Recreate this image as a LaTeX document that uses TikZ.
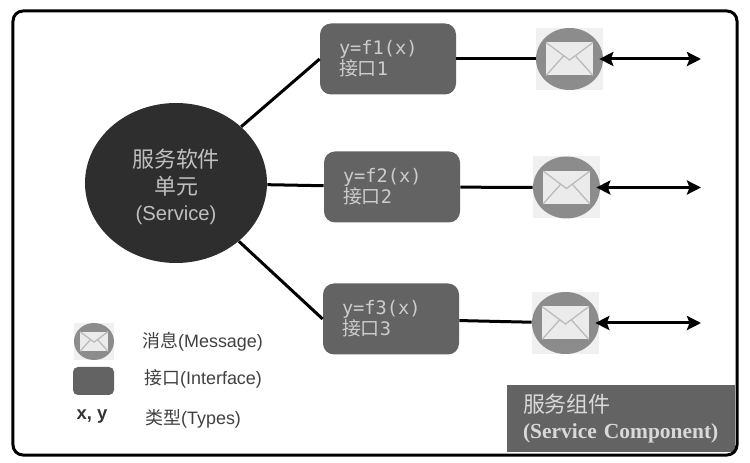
\documentclass[tikz,border=0pt]{standalone}
\usepackage{fontspec}
\setmainfont{Liberation Sans}
\setmonofont{DejaVu Sans Mono}
\newfontfamily\cjk{Noto Sans CJK SC}
\newfontfamily\titlefont{Liberation Serif}
\usetikzlibrary{arrows.meta,shapes.geometric}
\definecolor{darkball}{gray}{0.18}
\definecolor{ifgray}{gray}{0.39}
\definecolor{msggray}{gray}{0.55}
\tikzstyle{ifbox}=[
    fill=ifgray, rounded corners=2.2mm, inner sep=0pt,
    minimum width=2.72cm, minimum height=1.42cm, text width=1.96cm,
    text=white!80!black, align=left,
]
\tikzstyle{msgball}=[
    ellipse, fill=msggray, inner sep=0pt, minimum width=1.34cm, minimum height=1.24cm,
]
\tikzstyle{link}=[line width=0.6mm, black]
\tikzstyle{wire}=[link, shorten <=-0.8mm, {Stealth[length=2.8mm,width=2.8mm,inset=0.5mm]}-{Stealth[length=2.8mm,width=2.8mm,inset=0.5mm]}]
\tikzstyle{legendtext}=[anchor=west, inner sep=0pt, text=black!75, font=\fontsize{10.2}{12}\selectfont]
\newcommand{\envelope}[2][1]{
    \begin{scope}[shift={(#2)}, scale=#1]
        \fill[white!92!black] (-23.5,-16.5) rectangle (23.5,16.5);
        \draw[msggray!60!white, line width=0.25mm] (-23.5,-16.5) -- (0,1) -- (23.5,-16.5);
        \draw[msggray!60!white, line width=0.25mm] (-23.5,16.5) -- (-6,-3) (23.5,16.5) -- (6,-3);
    \end{scope}
}
\newcommand{\ifcaption}[1]{\ttfamily\fontsize{10.6}{13.6}\selectfont y=f#1(x)\\{\cjk\fontsize{10.8}{13.6}\selectfont 接口}#1}
\begin{document}
\begin{tikzpicture}[x=0.2mm, y=-0.2mm]
    \useasboundingbox (0,0) rectangle (750,463);
    \node (title) at (621,418.5) [fill=ifgray, minimum width=4.56cm, minimum height=1.34cm, inner sep=0pt, text width=3.92cm, text=white!85!black, align=left, font=\bfseries\fontsize{12.2}{14.6}\selectfont] {{\cjk\mdseries\fontsize{12.5}{14.6}\selectfont 服务组件}\\{\titlefont (Service Component)}};
    \node (frame) at (375,233) [draw, line width=0.6mm, rounded corners=2mm, minimum width=14.48cm, minimum height=8.88cm] {};
    \node (service) at (176,183) [ellipse, fill=darkball, text=white!75!black, minimum width=3.64cm, minimum height=3.2cm, inner sep=0pt, align=center, font=\fontsize{11.5}{15.3}\selectfont] {\rule{0pt}{15pt}{\cjk\fontsize{12.5}{15.3}\selectfont 服务软件}\\{\cjk\fontsize{12.5}{15.3}\selectfont 单元}\\(Service)};
    \node (if1) at (388,59) [ifbox] {\ifcaption{1}};
    \node (if2) at (392,187) [ifbox] {\ifcaption{2}};
    \node (if3) at (391,319) [ifbox] {\ifcaption{3}};
    % three message balls with their wires
    \foreach \n/\x/\y in {1/569.5/59, 2/566.5/187.5, 3/565.5/323} {
        \fill[white!94!black] (\x-33.5,\y-31) rectangle (\x+33.5,\y+31);
        \node (msg\n) at (\x,\y) [msgball] {};
        \envelope{\x,\y}
        \coordinate (end\n) at (701,\y);
        \draw[link] (if\n) -- (msg\n);
        \draw[wire] (msg\n) -- (end\n);
    }
    \draw[link] (service) -- (if1.west);
    \draw[link] (service) -- (if2);
    \draw[link] (service) -- (if3.west);
    % legend
    \fill[white!94!black] (74,323) rectangle (114,360);
    \node (legmsg) at (94,341.5) [msgball, minimum width=0.8cm, minimum height=0.74cm] {};
    \envelope[0.6]{94,341.5}
    \node (legif) at (93.5,381) [ifbox, rounded corners=1mm, minimum width=0.82cm, minimum height=0.56cm, text width=0.5cm] {};
    \node (legxy) at (92,417) [inner sep=0pt, font=\bfseries\fontsize{10.5}{12}\selectfont, text=black!80] {x, y};
    \node (legmsgtext) at (142,342) [legendtext] {{\cjk 消息}(Message)};
    \node (legiftext) at (144,379) [legendtext] {{\cjk 接口}(Interface)};
    \node (legtytext) at (145,419) [legendtext] {{\cjk 类型}(Types)};
\end{tikzpicture}
\end{document}
